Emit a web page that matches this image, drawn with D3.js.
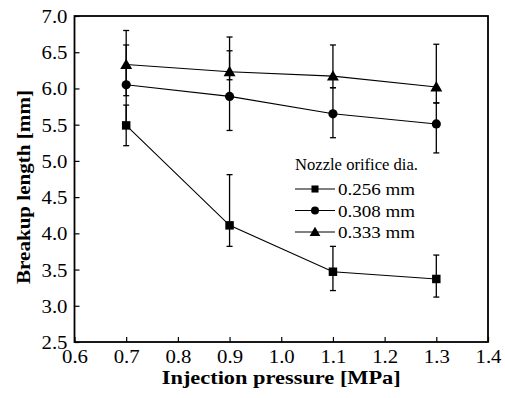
<!DOCTYPE html>
<html>
<head>
<meta charset="utf-8">
<script src="https://cdn.jsdelivr.net/npm/d3@7"></script>
<style>
  html, body { margin: 0; padding: 0; background: #fff; }
  text { font-family: "Liberation Serif", "Times New Roman", serif; fill: #000; }
</style>
</head>
<body>
<div id="chart"></div>
<script>
  // data
  var pressures = [0.7, 0.9, 1.1, 1.3];
  var seriesNames = ['0.256 mm', '0.308 mm', '0.333 mm'];
  var symbols = ['square', 'circle', 'triangle'];
  var length256 = [5.49, 4.11, 3.47, 3.37];
  var low256 = [5.21, 3.82, 3.21, 3.12];
  var high256 = [5.77, 4.81, 3.82, 3.70];
  var length308 = [6.05, 5.89, 5.65, 5.51];
  var low308 = [5.50, 5.42, 5.32, 5.11];
  var high308 = [6.60, 6.52, 6.01, 5.80];
  var length333 = [6.33, 6.23, 6.17, 6.02];
  var low333 = [5.90, 6.12, 6.01, 5.80];
  var high333 = [6.80, 6.71, 6.60, 6.61];
  var xTicks = [0.6, 0.7, 0.8, 0.9, 1.0, 1.1, 1.2, 1.3, 1.4];
  var yTicks = [2.5, 3.0, 3.5, 4.0, 4.5, 5.0, 5.5, 6.0, 6.5, 7.0];

  var width = 505, height = 398;
  var margin = {top: 16, right: 17, bottom: 56, left: 74.5};

  var series = [
    {name: seriesNames[0], symbol: symbols[0], y: length256, lo: low256, hi: high256},
    {name: seriesNames[1], symbol: symbols[1], y: length308, lo: low308, hi: high308},
    {name: seriesNames[2], symbol: symbols[2], y: length333, lo: low333, hi: high333}
  ];

  var svg = d3.select('#chart').append('svg')
      .attr('width', width)
      .attr('height', height);

  var x = d3.scaleLinear().domain([0.6, 1.4]).range([margin.left, width - margin.right]);
  var y = d3.scaleLinear().domain([2.5, 7.0]).range([height - margin.bottom, margin.top]);

  var symbolGen = {
    square: d3.symbol().type(d3.symbolSquare).size(72),
    circle: d3.symbol().type(d3.symbolCircle).size(66),
    triangle: d3.symbol().type(d3.symbolTriangle).size(62)
  };
  var legendSymbol = {
    square: d3.symbol().type(d3.symbolSquare).size(50),
    circle: d3.symbol().type(d3.symbolCircle).size(50),
    triangle: d3.symbol().type(d3.symbolTriangle).size(50)
  };

  // axes, ticks pointing inward
  var xAxis = d3.axisBottom(x).tickValues(xTicks).tickSizeInner(-5).tickSizeOuter(0)
      .tickPadding(8).tickFormat(d3.format('.1f'));
  var yAxis = d3.axisLeft(y).tickValues(yTicks).tickSizeInner(-5).tickSizeOuter(0)
      .tickPadding(7).tickFormat(d3.format('.1f'));

  var gx = svg.append('g')
      .attr('transform', 'translate(0,' + (height - margin.bottom) + ')')
      .call(xAxis);
  var gy = svg.append('g')
      .attr('transform', 'translate(' + margin.left + ',0)')
      .call(yAxis);
  [gx, gy].forEach(function(g) {
    g.attr('font-family', null);
    g.select('.domain').remove();
    g.selectAll('line').attr('stroke', '#000').attr('stroke-width', 1.2);
    g.selectAll('text')
      .style('font-size', '18px')
      .style('font-family', '"Liberation Serif", serif')
      .attr('fill', '#000')
      .attr('textLength', 26)
      .attr('lengthAdjust', 'spacingAndGlyphs');
  });
  gy.selectAll('text').attr('dy', '0.36em');

  // frame
  svg.append('rect')
      .attr('x', margin.left)
      .attr('y', margin.top)
      .attr('width', width - margin.left - margin.right)
      .attr('height', height - margin.top - margin.bottom)
      .attr('fill', 'none')
      .attr('stroke', '#000')
      .attr('stroke-width', 1.8);

  var line = d3.line()
      .x(function(d, i) { return x(pressures[i]); })
      .y(function(d) { return y(d); });

  series.forEach(function(s) {
    var g = svg.append('g');
    g.append('path')
      .attr('d', line(s.y))
      .attr('fill', 'none')
      .attr('stroke', '#000')
      .attr('stroke-width', 1.1);

    // error bars
    pressures.forEach(function(p, i) {
      g.append('line')
        .attr('x1', x(p)).attr('x2', x(p))
        .attr('y1', y(s.lo[i])).attr('y2', y(s.hi[i]))
        .attr('stroke', '#000').attr('stroke-width', 1.3);
      [s.lo[i], s.hi[i]].forEach(function(v) {
        g.append('line')
          .attr('x1', x(p) - 3).attr('x2', x(p) + 3)
          .attr('y1', y(v)).attr('y2', y(v))
          .attr('stroke', '#000').attr('stroke-width', 1.3);
      });
    });

    g.selectAll('path.mark')
      .data(s.y)
      .enter().append('path')
      .attr('class', 'mark')
      .attr('d', symbolGen[s.symbol])
      .attr('transform', function(d, i) {
        var dy = s.symbol === 'triangle' ? 1 : 0;
        return 'translate(' + x(pressures[i]) + ',' + (y(d) + dy) + ')';
      })
      .attr('fill', '#000');
  });

  // legend
  var legend = svg.append('g').attr('transform', 'translate(295,0)');
  legend.append('text')
      .attr('x', 0).attr('y', 170)
      .style('font-size', '16px')
      .attr('textLength', 123)
      .attr('lengthAdjust', 'spacingAndGlyphs')
      .text('Nozzle orifice dia.');
  series.forEach(function(s, i) {
    var cy = 189 + i * 21.5;
    legend.append('line')
      .attr('x1', 0).attr('x2', 40)
      .attr('y1', cy).attr('y2', cy)
      .attr('stroke', '#000').attr('stroke-width', 1.2);
    legend.append('path')
      .attr('d', legendSymbol[s.symbol])
      .attr('transform', 'translate(20,' + (cy + (s.symbol === 'triangle' ? 1 : 0)) + ')')
      .attr('fill', '#000');
    legend.append('text')
      .attr('x', 43).attr('y', cy + 6)
      .style('font-size', '17px')
      .attr('textLength', 77)
      .attr('lengthAdjust', 'spacingAndGlyphs')
      .text(s.name);
  });

  // axis titles
  svg.append('text')
      .attr('x', (margin.left + width - margin.right) / 2)
      .attr('y', 384)
      .attr('text-anchor', 'middle')
      .style('font-size', '19px')
      .style('font-weight', 'bold')
      .attr('textLength', 239)
      .attr('lengthAdjust', 'spacingAndGlyphs')
      .text('Injection pressure [MPa]');

  svg.append('text')
      .attr('transform', 'translate(30,187) rotate(-90)')
      .attr('text-anchor', 'middle')
      .style('font-size', '19px')
      .style('font-weight', 'bold')
      .attr('textLength', 194)
      .attr('lengthAdjust', 'spacingAndGlyphs')
      .text('Breakup length [mm]');
</script>
</body>
</html>
